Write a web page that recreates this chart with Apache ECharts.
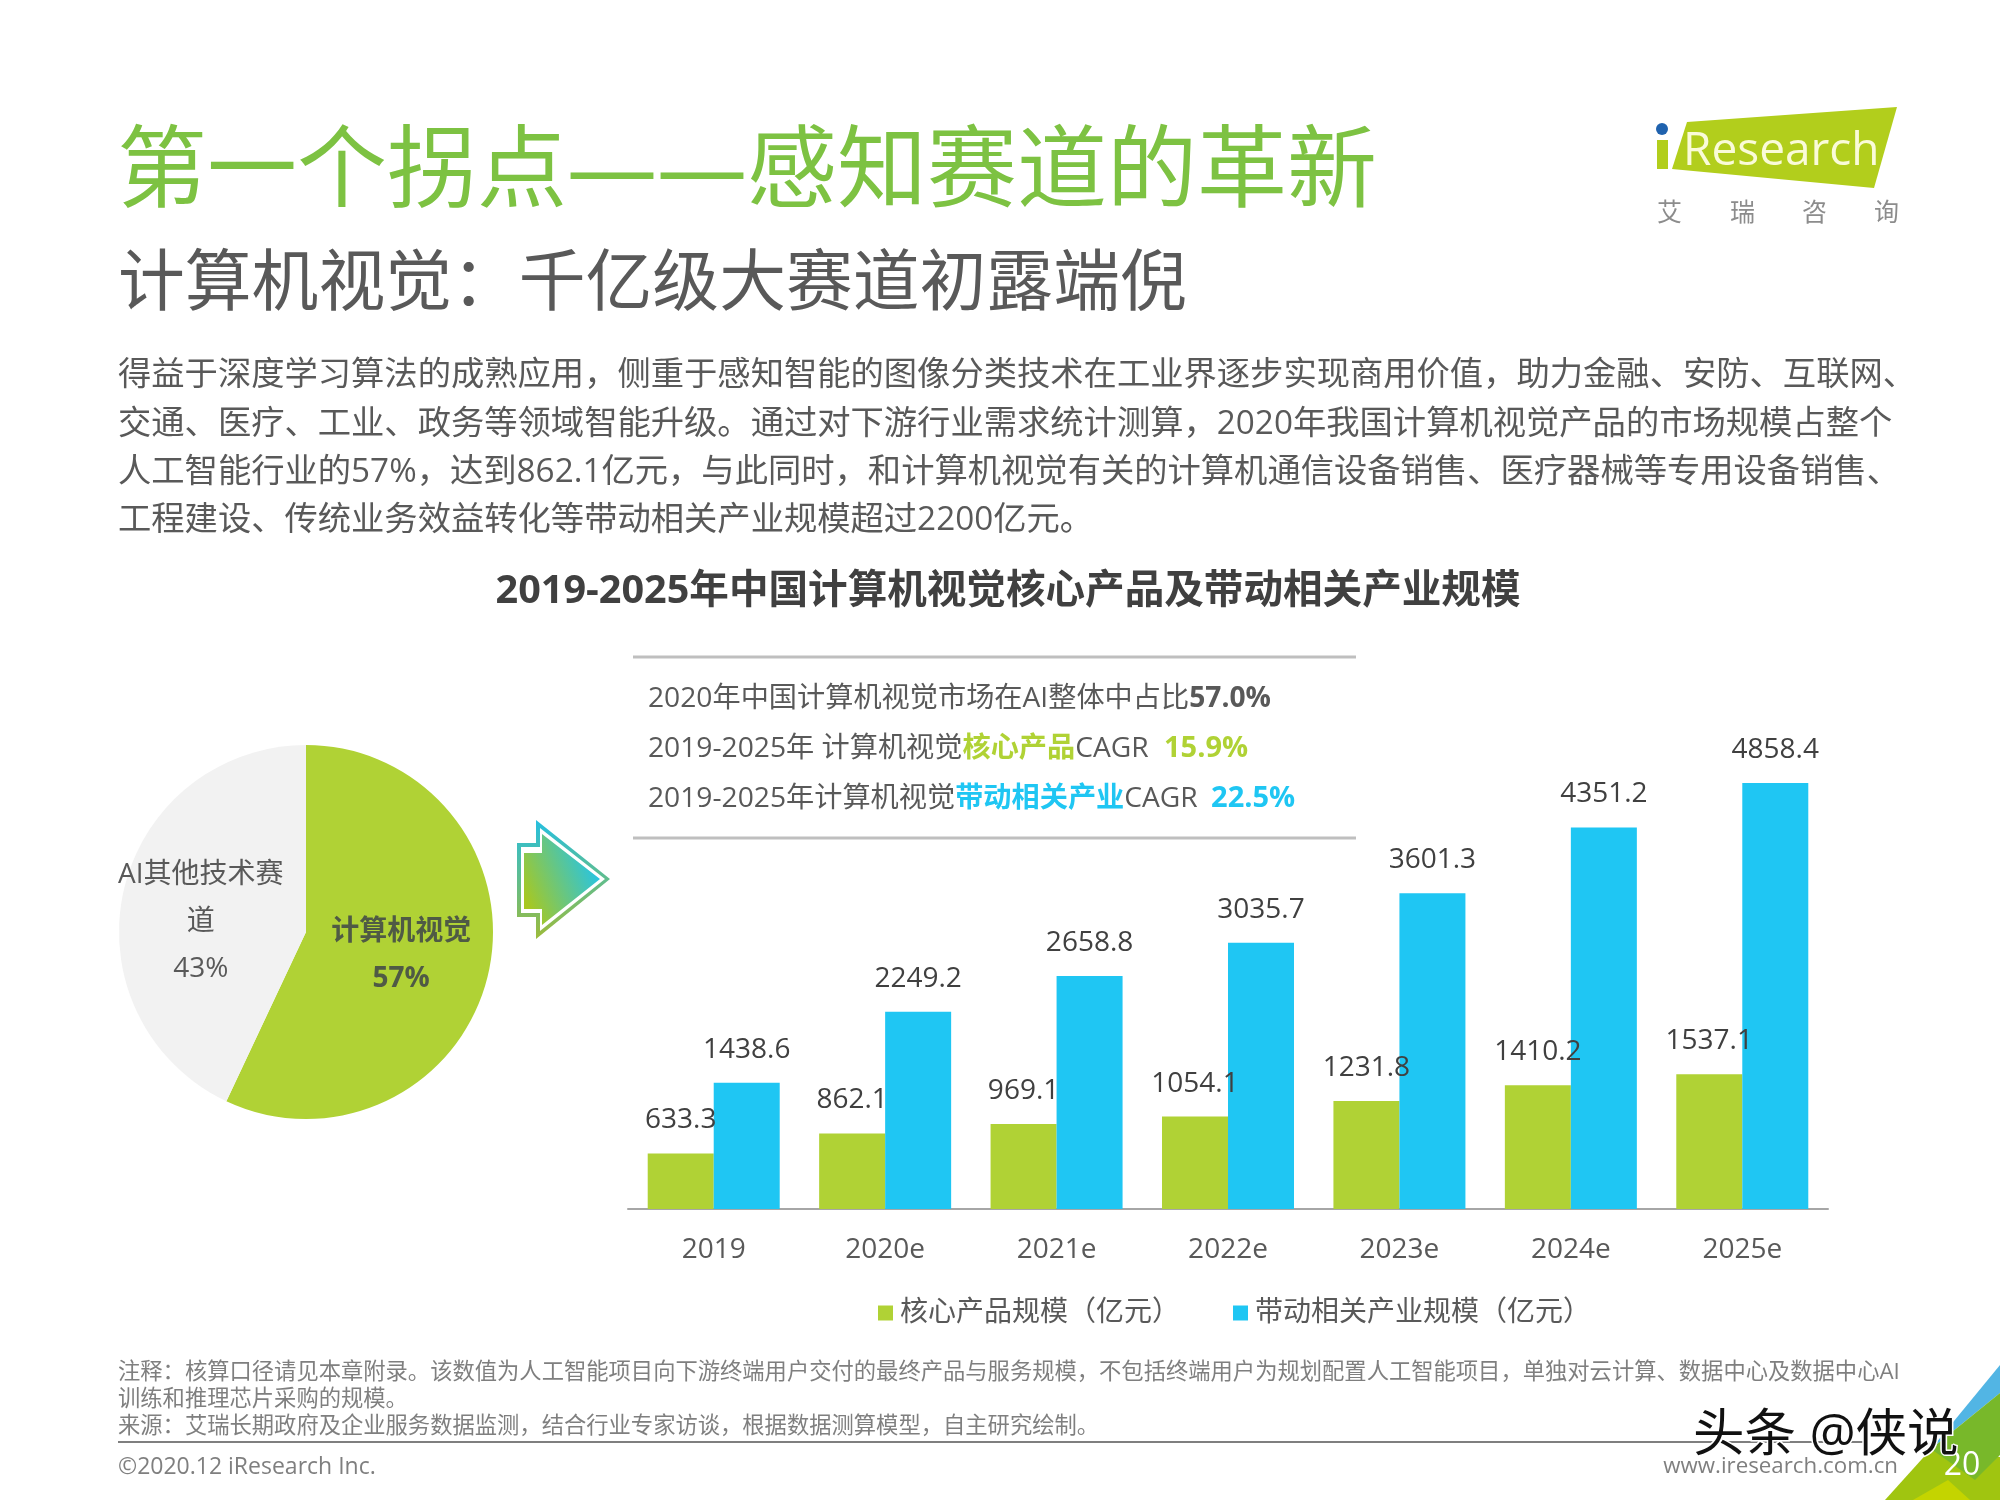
<!DOCTYPE html>
<html>
<head>
<meta charset="utf-8">
<title>计算机视觉</title>
<script src="https://cdn.jsdelivr.net/npm/echarts@6/dist/echarts.min.js"></script>
<style>
html, body { margin: 0; padding: 0; background: #fff; }
#main { width: 2000px; height: 1500px; }
</style>
</head>
<body>
<div id="main"></div>
<script>
// 数据
var years = ['2019', '2020e', '2021e', '2022e', '2023e', '2024e', '2025e'];
var coreValues = [633.3, 862.1, 969.1, 1054.1, 1231.8, 1410.2, 1537.1];
var relatedValues = [1438.6, 2249.2, 2658.8, 3035.7, 3601.3, 4351.2, 4858.4];
var seriesNames = ['核心产品规模（亿元）', '带动相关产业规模（亿元）'];
var pieNames = ['计算机视觉', 'AI其他技术赛\n道'];
var pieValues = [57, 43];

// 文字
var bodyLines = [
  '得益于深度学习算法的成熟应用，侧重于感知智能的图像分类技术在工业界逐步实现商用价值，助力金融、安防、互联网、',
  '交通、医疗、工业、政务等领域智能升级。通过对下游行业需求统计测算，2020年我国计算机视觉产品的市场规模占整个',
  '人工智能行业的57%，达到862.1亿元，与此同时，和计算机视觉有关的计算机通信设备销售、医疗器械等专用设备销售、',
  '工程建设、传统业务效益转化等带动相关产业规模超过2200亿元。'
];
var noteLines = [
  '注释：核算口径请见本章附录。该数值为人工智能项目向下游终端用户交付的最终产品与服务规模，不包括终端用户为规划配置人工智能项目，单独对云计算、数据中心及数据中心AI',
  '训练和推理芯片采购的规模。',
  '来源：艾瑞长期政府及企业服务数据监测，结合行业专家访谈，根据数据测算模型，自主研究绘制。'
];

var FONT = '"Open Sans","Noto Sans CJK SC",sans-serif';
var GREEN = '#B0D235', BLUE = '#1FC6F3', DARK = '#595959';

function txt(x, y, text, size, color, opt) {
  opt = opt || {};
  var style = {
    x: x, y: y, text: text, fill: color,
    fontFamily: FONT, fontSize: size, fontWeight: opt.weight || 'normal',
    align: opt.align || 'left', verticalAlign: 'middle'
  };
  if (opt.rich) style.rich = opt.rich;
  if (opt.stroke) { style.stroke = opt.stroke; style.lineWidth = opt.strokeWidth; }
  return { type: 'text', silent: true, z: opt.z || 5, style: style };
}
function poly(points, fill, z) {
  return { type: 'polygon', silent: true, z: z || 1, shape: { points: points }, style: { fill: fill } };
}
function hline(x1, x2, y, color, w) {
  return { type: 'line', silent: true, z: 1, shape: { x1: x1, y1: y, x2: x2, y2: y }, style: { stroke: color, lineWidth: w } };
}
function grad(x, y, x2, y2, c1, c2) {
  return new echarts.graphic.LinearGradient(x, y, x2, y2, [{ offset: 0, color: c1 }, { offset: 1, color: c2 }]);
}

var graphics = [];
graphics.push(txt(117, 174, '第一个拐点——感知赛道的革新', 90, '#7DC242'));
graphics.push(txt(118, 286, '计算机视觉：千亿级大赛道初露端倪', 66.8, DARK));
var bodyY = [376, 425, 473, 521];
bodyLines.forEach(function (s, i) { graphics.push(txt(118, bodyY[i], s, 33.3, DARK)); });
graphics.push(txt(1008, 592, '2019-2025年中国计算机视觉核心产品及带动相关产业规模', 39.6, '#404040', { align: 'center', weight: 'bold' }));

// logo
graphics.push(poly([[1687, 122], [1897, 107], [1874, 188], [1672, 169]], '#B2CE1C'));
graphics.push(poly([[1657, 140], [1668, 140], [1668, 169], [1657, 169]], '#B2CE1C'));
graphics.push({ type: 'circle', silent: true, z: 2, shape: { cx: 1662, cy: 129, r: 6 }, style: { fill: '#1F62AE' } });
graphics.push(txt(1683, 152, 'Research', 46, '#FAFBD8'));
var logoChars = ['艾', '瑞', '咨', '询'], logoX = [1657, 1730, 1802, 1874];
logoChars.forEach(function (c, i) { graphics.push(txt(logoX[i], 214, c, 25, '#8C8C8C')); });

// 占比说明
graphics.push(hline(633, 1356, 657, '#BFBFBF', 3));
graphics.push(hline(633, 1356, 838, '#BFBFBF', 3));
var infoRich = {
  n: { fontFamily: FONT, fontSize: 28.2, fill: DARK },
  b: { fontFamily: FONT, fontSize: 28.2, fontWeight: 'bold', fill: DARK },
  g: { fontFamily: FONT, fontSize: 28.2, fontWeight: 'bold', fill: GREEN },
  c: { fontFamily: FONT, fontSize: 28.2, fontWeight: 'bold', fill: BLUE },
  gp: { fontFamily: FONT, fontSize: 29, fontWeight: 'bold', fill: GREEN, padding: [0, 0, 0, 8] },
  cp: { fontFamily: FONT, fontSize: 29, fontWeight: 'bold', fill: BLUE, padding: [0, 0, 0, 6] }
};
graphics.push(txt(648, 699, '{n|2020年中国计算机视觉市场在AI整体中占比}{b|57.0%}', 28, DARK, { rich: infoRich }));
graphics.push(txt(648, 749, '{n|2019-2025年 计算机视觉}{g|核心产品}{n|CAGR }{gp|15.9%}', 28, DARK, { rich: infoRich }));
graphics.push(txt(648, 799, '{n|2019-2025年计算机视觉}{c|带动相关产业}{n|CAGR }{cp|22.5%}', 28, DARK, { rich: infoRich }));

// 箭头
graphics.push(poly([[610, 879], [536, 820], [536, 843], [517, 843], [517, 917], [536, 917], [536, 939]], grad(0, 0, 0, 1, '#25BFE0', '#9DBB3A'), 1));
graphics.push(poly([[605, 879], [540, 828], [540, 847], [521, 847], [521, 913], [540, 913], [540, 931]], '#FFFFFF', 2));
graphics.push(poly([[600, 879], [542, 834], [542, 853], [524, 853], [524, 909], [542, 909], [542, 925]], grad(0, 0.7, 1, 0.35, '#A8C820', '#20C4EE'), 3));

// 页脚
var noteY = [1373, 1400, 1427];
noteLines.forEach(function (s, i) { graphics.push(txt(118, noteY[i], s, 22.3, '#7F7F7F')); });
graphics.push(hline(118, 1865, 1442, '#7F7F7F', 2));
graphics.push(txt(118, 1467, '©2020.12 iResearch Inc.', 23, '#7F7F7F'));
graphics.push(txt(1898, 1467, 'www.iresearch.com.cn', 22.3, '#7F7F7F', { align: 'right' }));

// 右下角色块
graphics.push(poly([[2000, 1365], [1931, 1449], [2000, 1393]], '#52B5E4', 1));
graphics.push(poly([[1885, 1500], [1931, 1449], [2000, 1457], [2000, 1500]], '#A0C510', 1));
graphics.push(poly([[1931, 1449], [2000, 1393], [2000, 1455], [1975, 1480]], '#78B82A', 2));
graphics.push(poly([[1913, 1500], [1948, 1480], [1970, 1500]], '#C4D400', 2));
graphics.push(txt(1962, 1466, '20', 32, '#FFFFFF', { align: 'center', z: 6 }));

// 水印
graphics.push(txt(1693, 1436, '头条 @侠说', 51.5, '#111111', { stroke: '#FFFFFF', strokeWidth: 3, z: 7 }));

// 饼图标签偏移
var pieLabelShift = [{ dx: 1, dy: 2 }, { dx: -11, dy: 11 }];

var option = {
  backgroundColor: '#FFFFFF',
  animation: false,
  textStyle: { fontFamily: FONT },
  legend: {
    left: 873, top: 1294, itemWidth: 15, itemHeight: 15, itemGap: 53,
    icon: 'rect', selectedMode: false, data: seriesNames,
    textStyle: { fontFamily: FONT, fontSize: 28, color: DARK, padding: [0, 0, 0, 2] }
  },
  grid: { left: 628, width: 1200, top: 770.6, height: 438.4 },
  xAxis: {
    type: 'category', data: years,
    axisLine: { lineStyle: { color: '#A6A6A6', width: 2 } },
    axisTick: { show: false },
    axisLabel: { fontFamily: FONT, fontSize: 28, color: DARK, margin: 27 }
  },
  yAxis: { type: 'value', min: 0, max: 5000, show: false, splitLine: { show: false } },
  series: [
    {
      name: seriesNames[0], type: 'bar', data: coreValues, barWidth: 66, barGap: 0,
      itemStyle: { color: GREEN },
      label: { show: true, position: 'top', distance: 19, fontFamily: FONT, fontSize: 28, color: '#404040' }
    },
    {
      name: seriesNames[1], type: 'bar', data: relatedValues, barWidth: 66,
      itemStyle: { color: BLUE },
      label: { show: true, position: 'top', distance: 19, fontFamily: FONT, fontSize: 28, color: '#404040' }
    },
    {
      type: 'pie', center: [306, 932], radius: [0, 187], startAngle: 90, clockwise: true,
      data: [
        { name: pieNames[0], value: pieValues[0], itemStyle: { color: GREEN },
          label: { fontWeight: 'bold', color: '#4F5A45' } },
        { name: pieNames[1], value: pieValues[1], itemStyle: { color: '#F2F2F2' },
          label: { color: DARK } }
      ],
      label: { show: true, position: 'inside', formatter: '{b}\n{d}%', fontFamily: FONT, fontSize: 28, lineHeight: 47, align: 'center' },
      labelLine: { show: false },
      labelLayout: function (params) { return pieLabelShift[params.dataIndex]; }
    }
  ],
  graphic: { elements: graphics }
};

var myChart = echarts.init(document.getElementById('main'));
myChart.setOption(option);
</script>
</body>
</html>
